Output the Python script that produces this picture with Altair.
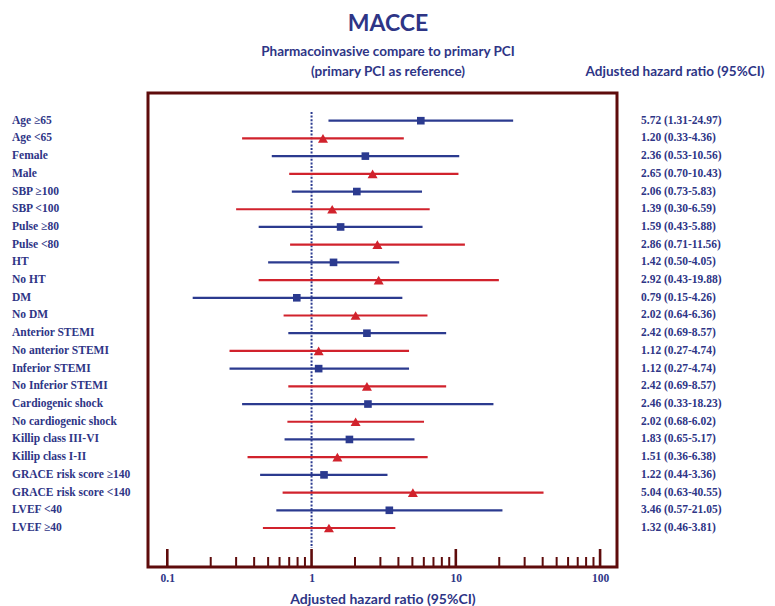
import altair as alt
import pandas as pd

labels = ["Age \u226565", "Age <65", "Female", "Male", "SBP \u2265100", "SBP <100",
          "Pulse \u226580", "Pulse <80", "HT", "No HT", "DM", "No DM",
          "Anterior STEMI", "No anterior STEMI", "Inferior STEMI", "No Inferior STEMI",
          "Cardiogenic shock", "No cardiogenic shock", "Killip class III-VI", "Killip class I-II",
          "GRACE risk score \u2265140", "GRACE risk score <140", "LVEF <40", "LVEF \u226540"]
hr = [5.72, 1.20, 2.36, 2.65, 2.06, 1.39, 1.59, 2.86, 1.42, 2.92, 0.79, 2.02,
      2.42, 1.12, 1.12, 2.42, 2.46, 2.02, 1.83, 1.51, 1.22, 5.04, 3.46, 1.32]
lo = [1.31, 0.33, 0.53, 0.70, 0.73, 0.30, 0.43, 0.71, 0.50, 0.43, 0.15, 0.64,
      0.69, 0.27, 0.27, 0.69, 0.33, 0.68, 0.65, 0.36, 0.44, 0.63, 0.57, 0.46]
hi = [24.97, 4.36, 10.56, 10.43, 5.83, 6.59, 5.88, 11.56, 4.05, 19.88, 4.26, 6.36,
      8.57, 4.74, 4.74, 8.57, 18.23, 6.02, 5.17, 6.38, 3.36, 40.55, 21.05, 3.81]
major_ticks = [0.1, 1, 10, 100]
minor_ticks = [0.2, 0.3, 0.4, 0.5, 0.6, 0.7, 0.8, 0.9,
               2, 3, 4, 5, 6, 7, 8, 9,
               20, 30, 40, 50, 60, 70, 80, 90]

NAVY = "#2e3586"
BLUE = "#2b3a8f"
RED = "#d1222c"
MAROON = "#5e0b0b"

df = pd.DataFrame({
    "idx": list(range(len(labels))),
    "label": labels,
    "hr": hr, "lo": lo, "hi": hi,
    "grp": ["a" if i % 2 == 0 else "b" for i in range(len(labels))],
})
df["ci"] = [f"{h:.2f} ({l:.2f}-{u:.2f})" for h, l, u in zip(hr, lo, hi)]

W, H = 469, 474
xscale = alt.Scale(type="log", domain=[0.0735, 131], nice=False)
yscale = alt.Scale(domain=[0, 23], range=[27.7, 435])
cscale = alt.Scale(domain=["a", "b"], range=[BLUE, RED])
sscale = alt.Scale(domain=["a", "b"], range=["square", "triangle-up"])
zscale = alt.Scale(domain=["a", "b"], range=[58, 100])

base = alt.Chart(df)

xaxis = alt.Axis(values=major_ticks, format="~g", domain=False, ticks=False, grid=False,
                 labelFont="Liberation Serif", labelFontWeight="bold", labelFontSize=11.5,
                 labelColor=NAVY, labelPadding=5, labelFlush=False,
                 title="Adjusted hazard ratio (95%CI)", titleFont="Lato",
                 titleFontWeight="bold", titleFontSize=14, titleColor=NAVY, titlePadding=9)

ref = alt.Chart(pd.DataFrame({"v": [1]})).mark_rule(
    color=BLUE, strokeDash=[2, 1.6], strokeWidth=2
).encode(x=alt.X("v:Q", scale=xscale, axis=xaxis), y=alt.value(19), y2=alt.value(455))

ci = base.mark_rule(strokeWidth=2.2).encode(
    x=alt.X("lo:Q", scale=xscale),
    x2="hi:Q",
    y=alt.Y("idx:Q", scale=yscale, axis=None),
    color=alt.Color("grp:N", scale=cscale, legend=None),
)
pts = base.mark_point(filled=True, opacity=1).encode(
    x=alt.X("hr:Q", scale=xscale),
    y=alt.Y("idx:Q", scale=yscale, axis=None),
    color=alt.Color("grp:N", scale=cscale, legend=None),
    shape=alt.Shape("grp:N", scale=sscale, legend=None),
    size=alt.Size("grp:N", scale=zscale, legend=None),
)

left_txt = base.mark_text(align="left", baseline="middle", font="Liberation Serif",
                          fontWeight="bold", fontSize=11.5, color=NAVY).encode(
    x=alt.value(-136), y=alt.Y("idx:Q", scale=yscale, axis=None), text="label:N")
right_txt = base.mark_text(align="left", baseline="middle", font="Liberation Serif",
                           fontWeight="bold", fontSize=11.5, color=NAVY).encode(
    x=alt.value(493), y=alt.Y("idx:Q", scale=yscale, axis=None), text="ci:N")

maj = alt.Chart(pd.DataFrame({"t": major_ticks})).mark_rule(color=MAROON, strokeWidth=2.6).encode(
    x=alt.X("t:Q", scale=xscale), y=alt.value(H), y2=alt.value(H - 18))
mnr = alt.Chart(pd.DataFrame({"t": minor_ticks})).mark_rule(color=MAROON, strokeWidth=2).encode(
    x=alt.X("t:Q", scale=xscale), y=alt.value(H), y2=alt.value(H - 10))

def header(txt, x, y, size, align="center"):
    return alt.Chart(pd.DataFrame({"s": [txt]})).mark_text(
        font="Lato", fontWeight="bold", fontSize=size, color=NAVY,
        align=align, baseline="middle").encode(
        x=alt.value(x), y=alt.value(y), text="s:N")

h1 = header("MACCE", 240, -69, 23)
h2 = header("Pharmacoinvasive compare to primary PCI", 240, -41, 13.5)
h3 = header("(primary PCI as reference)", 240, -21, 13.5)
h4 = header("Adjusted hazard ratio (95%CI)", 527, -21, 13.5)

chart = alt.layer(ref, mnr, maj, ci, pts, left_txt, right_txt, h1, h2, h3, h4).properties(
    width=W, height=H,
    autosize=alt.AutoSizeParams(type="none"),
    padding={"left": 140, "top": 85, "right": 150, "bottom": 40},
).configure_view(stroke=MAROON, strokeWidth=3)

chart.save("out.html", embed_options={"renderer": "svg", "actions": False})
